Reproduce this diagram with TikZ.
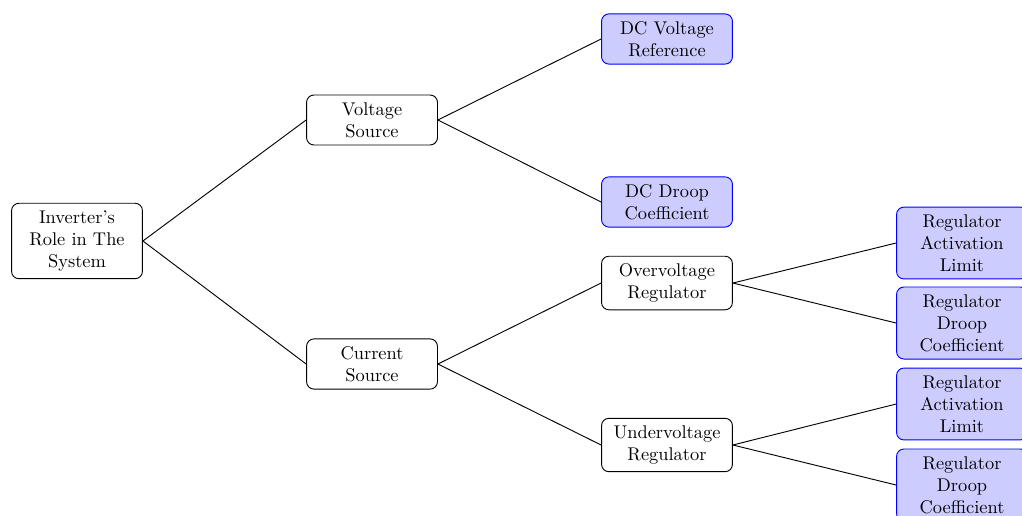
\documentclass[tikz,border=0pt]{standalone}
\usetikzlibrary{positioning}
\definecolor{cleaf}{HTML}{0000FF}
\tikzset{
  every picture/.style={line width=0.5pt},
  box/.style={draw=black, fill=white, rounded corners=4pt, align=center, text width=2.2cm, minimum width=2.5cm, inner xsep=3.33pt, inner ysep=4pt},
  leaf/.style={box, draw=cleaf, fill=cleaf!20},
  link/.style={draw=black},
}
\begin{document}
\begin{tikzpicture}
  \useasboundingbox (0,0) rectangle (19.521,-9.856);
  \clip (0,0) rectangle (19.521,-9.856);
  % level 0 and 1
  \node[box] (root) at (1.471,-4.603) {Inverter's Role in The System};
  \node[box] (vs) at (7.106,-2.292) {Voltage Source};
  \node[box] (cs) at (7.106,-6.953) {Current Source};
  % level 2
  \node[leaf] (dcv) at (12.740,-0.745) {DC Voltage Reference};
  \node[leaf] (dcd) at (12.740,-3.858) {DC Droop Coefficient};
  \node[box] (ovr) at (12.740,-5.406) {Overvoltage Regulator};
  \node[box] (uvr) at (12.740,-8.500) {Undervoltage Regulator};
  % level 3
  \node[leaf] (ol) at (18.375,-4.642) {Regulator Activation Limit};
  \node[leaf] (od) at (18.375,-6.170) {Regulator Droop Coefficient};
  \node[leaf] (ul) at (18.375,-7.717) {Regulator Activation Limit};
  \node[leaf] (ud) at (18.375,-9.264) {Regulator Droop Coefficient};
  \foreach \a/\b in {root/vs, root/cs, vs/dcv, vs/dcd, cs/ovr, cs/uvr, ovr/ol, ovr/od, uvr/ul, uvr/ud}
    \draw[link] (\a.east) -- (\b.west);
\end{tikzpicture}
\end{document}
